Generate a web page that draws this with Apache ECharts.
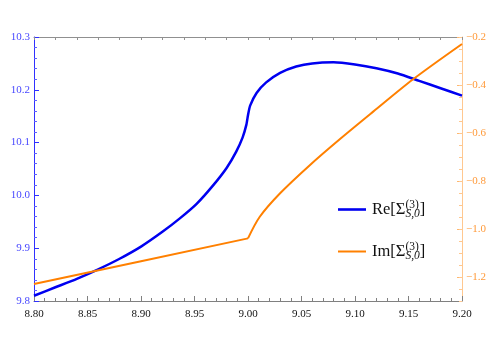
<!DOCTYPE html>
<html>
<head>
<meta charset="utf-8">
<script src="https://cdn.jsdelivr.net/npm/echarts@6/dist/echarts.min.js"></script>
<style>
  html, body { margin: 0; padding: 0; background: #fff; }
  #chart { width: 498px; height: 339px; }
</style>
</head>
<body>
<div id="chart"></div>
<script>
const reX = [8.80, 8.82, 8.84, 8.86, 8.88, 8.90, 8.92, 8.936, 8.952, 8.967, 8.980, 8.989, 8.995, 8.9985, 9.000,
             9.002, 9.008, 9.017, 9.030, 9.045, 9.060, 9.08, 9.10, 9.12, 9.14, 9.16, 9.18, 9.20];
const reY = [9.810, 9.826, 9.842, 9.860, 9.880, 9.903, 9.931, 9.956, 9.984, 10.018, 10.052, 10.083, 10.110, 10.134, 10.152,
             10.170, 10.194, 10.214, 10.232, 10.244, 10.250, 10.252, 10.248, 10.241, 10.231, 10.217, 10.203, 10.189];

const imLowX = [8.80, 8.90, 9.00];
const imLowY = [-1.229, -1.134, -1.039];
const imHighX = [9.000, 9.011, 9.030, 9.058, 9.086, 9.117, 9.154, 9.200];
const imHighY = [-1.039, -0.949, -0.851, -0.733, -0.625, -0.511, -0.377, -0.229];

const leftTicks = [9.8, 9.9, 10.0, 10.1, 10.2, 10.3];
const rightTicks = [-1.2, -1.0, -0.8, -0.6, -0.4, -0.2];

const BLUE = '#0000f0';
const ORANGE = '#ff8000';
const serif = 'Liberation Serif';

const chart = echarts.init(document.getElementById('chart'));

const legendRich = {
    a: { fontFamily: serif, fontSize: 16.5, color: '#111', padding: [0, 0, 0, 1] },
    sup: { fontFamily: serif, fontSize: 11.5, color: '#111', width: 0, padding: [0, 0, 9, 0] },
    sub: { fontFamily: serif, fontStyle: 'italic', fontSize: 11.5, color: '#111', padding: [9, 0, 0, 0] },
    n: { fontFamily: serif, fontSize: 16.5, color: '#111' }
};
const legendFmt = name => `{a|${name}[Σ}{sup|(3)}{sub|S,0}{n|]}`;

const pairs = (xs, ys) => xs.map((x, i) => [x, ys[i]]);

chart.setOption({
    animation: false,
    backgroundColor: '#fff',
    grid: { left: 34, right: 36, top: 37, bottom: 38 },
    legend: [
        {
            data: [{ name: 'Re', icon: 'rect' }], left: 333, top: 194, itemWidth: 28, itemHeight: 2.6,
            formatter: legendFmt, textStyle: { rich: legendRich }
        },
        {
            data: [{ name: 'Im', icon: 'rect' }], left: 333, top: 236, itemWidth: 28, itemHeight: 2,
            formatter: legendFmt, textStyle: { rich: legendRich }
        }
    ],
    xAxis: [
        {
            type: 'value', min: 8.8, max: 9.2, interval: 0.05,
            axisLine: { lineStyle: { color: '#808080' } },
            axisTick: { inside: true, length: 5, lineStyle: { color: '#808080' } },
            minorTick: { show: true, splitNumber: 5, length: 3, lineStyle: { color: '#808080' } },
            splitLine: { show: false },
            axisLabel: {
                margin: 8, color: '#111', fontFamily: serif, fontSize: 11,
                formatter: v => v.toFixed(2)
            }
        },
        {
            type: 'value', position: 'top', min: 8.8, max: 9.2, interval: 0.02,
            axisLine: { lineStyle: { color: '#909090' } },
            axisTick: { inside: true, length: 3, lineStyle: { color: '#909090' } },
            splitLine: { show: false },
            axisLabel: { show: false }
        }
    ],
    yAxis: [
        {
            type: 'value', position: 'left', min: 9.8, max: 10.3, interval: 0.1,
            axisLine: { lineStyle: { color: '#3030ff' } },
            axisTick: { inside: true, length: 5, lineStyle: { color: '#3030ff' } },
            minorTick: { show: true, splitNumber: 5, length: 3, lineStyle: { color: '#6060ff' } },
            splitLine: { show: false },
            axisLabel: {
                margin: 4, color: '#4848ff', fontFamily: serif, fontSize: 11,
                customValues: leftTicks, formatter: v => v.toFixed(1)
            }
        },
        {
            type: 'value', position: 'right', min: -1.3, max: -0.2,
            axisLine: { lineStyle: { color: '#ffc890' } },
            axisTick: { inside: true, length: 5, customValues: rightTicks, lineStyle: { color: '#ffb870' } },
            splitLine: { show: false },
            axisLabel: {
                margin: 4, color: '#ff9a3a', fontFamily: serif, fontSize: 11,
                customValues: rightTicks,
                formatter: v => (v < 0 ? '\u2212' : '') + Math.abs(v).toFixed(1)
            }
        },
        {
            type: 'value', position: 'right', min: -1.3, max: -0.2, interval: 0.05,
            axisLine: { show: false },
            axisTick: { inside: true, length: 3, lineStyle: { color: '#ffc890' } },
            splitLine: { show: false },
            axisLabel: { show: false }
        }
    ],
    series: [
        {
            name: 'Re', type: 'line', xAxisIndex: 0, yAxisIndex: 0,
            data: pairs(reX, reY),
            symbol: 'none', smooth: 0.2,
            lineStyle: { color: BLUE, width: 2.5 }, itemStyle: { color: BLUE }
        },
        {
            name: 'Im', type: 'line', xAxisIndex: 0, yAxisIndex: 1,
            data: pairs(imLowX, imLowY),
            symbol: 'none',
            lineStyle: { color: ORANGE, width: 2 }, itemStyle: { color: ORANGE }
        },
        {
            name: 'Im', type: 'line', xAxisIndex: 0, yAxisIndex: 1,
            data: pairs(imHighX, imHighY),
            symbol: 'none', smooth: 0.3,
            lineStyle: { color: ORANGE, width: 2 }, itemStyle: { color: ORANGE }
        }
    ]
});
</script>
</body>
</html>
